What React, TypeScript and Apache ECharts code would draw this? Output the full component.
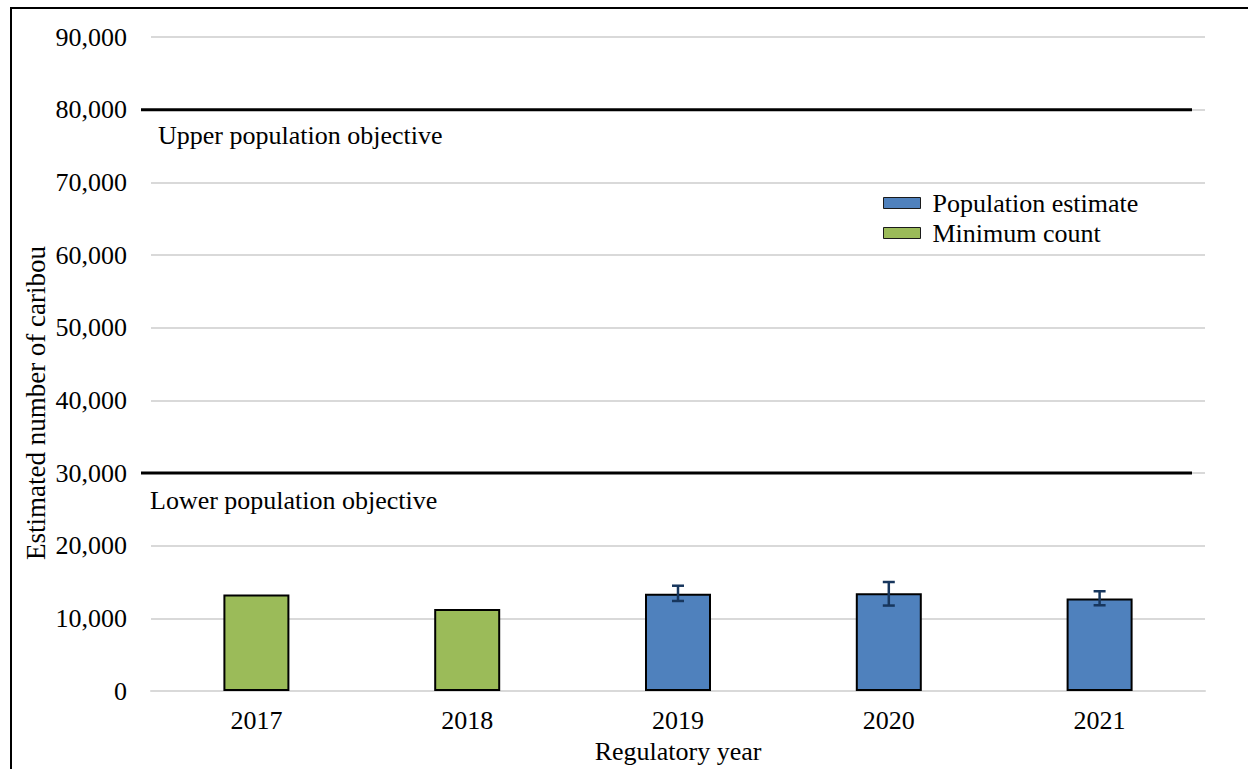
import React, { useEffect, useRef } from "react";
import * as echarts from "echarts";

const years = ["2017", "2018", "2019", "2020", "2021"];
const populationEstimate = [null, null, 13400, 13450, 12750];
const minimumCount = [13300, 11300, null, null, null];
const errorLow = [null, null, 12400, 11770, 11810];
const errorHigh = [null, null, 14500, 15010, 13740];
const upperObjective = 80000;
const lowerObjective = 30000;
const yTicks = { min: 0, max: 90000, interval: 10000 };

const FONT = "Liberation Serif";
const FS = 26;

export default function App() {
  const ref = useRef<HTMLDivElement>(null);
  useEffect(() => {
    if (!ref.current) return;
    const chart = echarts.init(ref.current, null, { renderer: "svg" });
    const errData: any[] = [];
    years.forEach((y, i) => {
      if (errorLow[i] != null) errData.push([i, errorLow[i], errorHigh[i]]);
    });
    chart.setOption({
      animation: false,
      backgroundColor: "#fff",
      textStyle: { fontFamily: FONT },
      grid: { left: 151, right: 43, top: 37, bottom: 77, containLabel: false },
      legend: {
        orient: "vertical",
        left: 883,
        top: 188,
        padding: 0,
        itemWidth: 37,
        itemHeight: 11,
        itemGap: 0,
        icon: "rect",
        itemStyle: { borderWidth: 1, borderColor: "#1a1a1a" },
        textStyle: { fontFamily: FONT, fontSize: FS, color: "#000", lineHeight: 30, padding: [0, 0, 0, 7] },
        data: ["Population estimate", "Minimum count"],
      },
      xAxis: {
        type: "category",
        data: years,
        name: "Regulatory year",
        nameLocation: "middle",
        nameGap: 32,
        nameTextStyle: { fontFamily: FONT, fontSize: FS, color: "#000" },
        axisLine: { show: true, lineStyle: { color: "#d9d9d9", width: 2 } },
        axisTick: { show: false },
        axisLabel: { fontFamily: FONT, fontSize: FS, color: "#000", margin: 16 },
      },
      yAxis: {
        type: "value",
        min: yTicks.min,
        max: yTicks.max,
        interval: yTicks.interval,
        axisLine: { show: false },
        axisTick: { show: false },
        splitLine: { lineStyle: { color: "#d9d9d9", width: 2 } },
        axisLabel: {
          fontFamily: FONT,
          fontSize: FS,
          color: "#000",
          margin: 24,
          formatter: (v: number) => v.toLocaleString("en-US"),
        },
      },
      series: [
        {
          name: "Population estimate",
          type: "bar",
          stack: "s",
          barWidth: 66,
          data: populationEstimate,
          itemStyle: { color: "#4F81BD", borderColor: "#000", borderWidth: 2 },
        },
        {
          name: "Minimum count",
          type: "bar",
          stack: "s",
          barWidth: 66,
          data: minimumCount,
          itemStyle: { color: "#9BBB59", borderColor: "#000", borderWidth: 2 },
        },
        {
          type: "custom",
          name: "error",
          data: errData,
          z: 10,
          renderItem: (params: any, api: any) => {
            const x = api.value(0);
            const lo = api.coord([x, api.value(1)]);
            const hi = api.coord([x, api.value(2)]);
            const w = 6;
            const style = { stroke: "#17365D", lineWidth: 2.5 };
            return {
              type: "group",
              children: [
                { type: "line", shape: { x1: lo[0], y1: lo[1], x2: hi[0], y2: hi[1] }, style },
                { type: "line", shape: { x1: lo[0] - w, y1: lo[1], x2: lo[0] + w, y2: lo[1] }, style },
                { type: "line", shape: { x1: hi[0] - w, y1: hi[1], x2: hi[0] + w, y2: hi[1] }, style },
              ],
            };
          },
        },
      ],
    });
    const yUp = chart.convertToPixel({ yAxisIndex: 0 }, upperObjective) as number;
    const yLo = chart.convertToPixel({ yAxisIndex: 0 }, lowerObjective) as number;
    chart.setOption({
      graphic: [
        { type: "line", shape: { x1: 141, y1: yUp, x2: 1192, y2: yUp }, style: { stroke: "#000", lineWidth: 3 }, z: 20 },
        { type: "line", shape: { x1: 141, y1: yLo, x2: 1192, y2: yLo }, style: { stroke: "#000", lineWidth: 3 }, z: 20 },
        {
          type: "text",
          x: 158,
          y: yUp + 26,
          style: { text: "Upper population objective", font: `${FS}px "${FONT}"`, fill: "#000", verticalAlign: "middle" },
        },
        {
          type: "text",
          x: 150,
          y: yLo + 27,
          style: { text: "Lower population objective", font: `${FS}px "${FONT}"`, fill: "#000", verticalAlign: "middle" },
        },
        {
          type: "text",
          x: 36,
          y: 403,
          rotation: Math.PI / 2,
          style: {
            text: "Estimated number of caribou",
            font: `27px "${FONT}"`,
            fill: "#000",
            align: "center",
            verticalAlign: "middle",
          },
        },
        { type: "line", shape: { x1: 10, y1: 8, x2: 1248, y2: 8 }, style: { stroke: "#000", lineWidth: 2 } },
        { type: "line", shape: { x1: 11, y1: 7, x2: 11, y2: 769 }, style: { stroke: "#000", lineWidth: 2 } },
      ],
    });
    return () => chart.dispose();
  }, []);
  return (
    <div
      ref={ref}
      style={{ position: "absolute", left: 0, top: 0, width: 1248, height: 769 }}
    />
  );
}
